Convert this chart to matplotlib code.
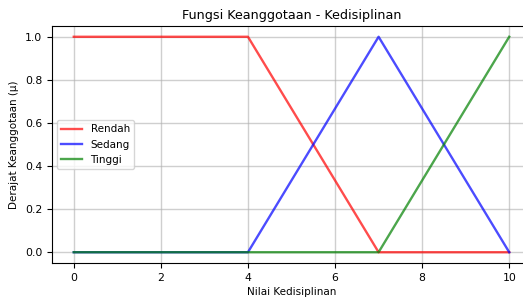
import matplotlib
matplotlib.use('Agg')
from matplotlib import pyplot as plt

x_points = [0, 4, 7, 10]
rendah = [1, 1, 0, 0]
sedang = [0, 0, 1, 0]
tinggi = [0, 0, 0, 1]

fig = plt.figure(figsize=(5.23, 2.97), dpi=100)
ax = fig.add_axes([52/523, 1 - 263/297, 479/523, 237/297])

ax.plot(x_points, rendah, color='r', alpha=0.7, lw=1.7, label='Rendah')
ax.plot(x_points, sedang, color='b', alpha=0.7, lw=1.7, label='Sedang')
ax.plot(x_points, tinggi, color='g', alpha=0.7, lw=1.7, label='Tinggi')

ax.set_title('Fungsi Keanggotaan - Kedisiplinan', fontsize=9.2, pad=5)
ax.set_xlabel('Nilai Kedisiplinan', fontsize=7.5, labelpad=3)
ax.set_ylabel('Derajat Keanggotaan (μ)', fontsize=7.5, labelpad=4)
ax.tick_params(labelsize=7.8)
ax.spines['right'].set_visible(False)
ax.grid(True, alpha=0.6, lw=1.0)
ax.legend(loc='center left', fontsize=7.5)

fig.savefig('out.png', dpi=100)
